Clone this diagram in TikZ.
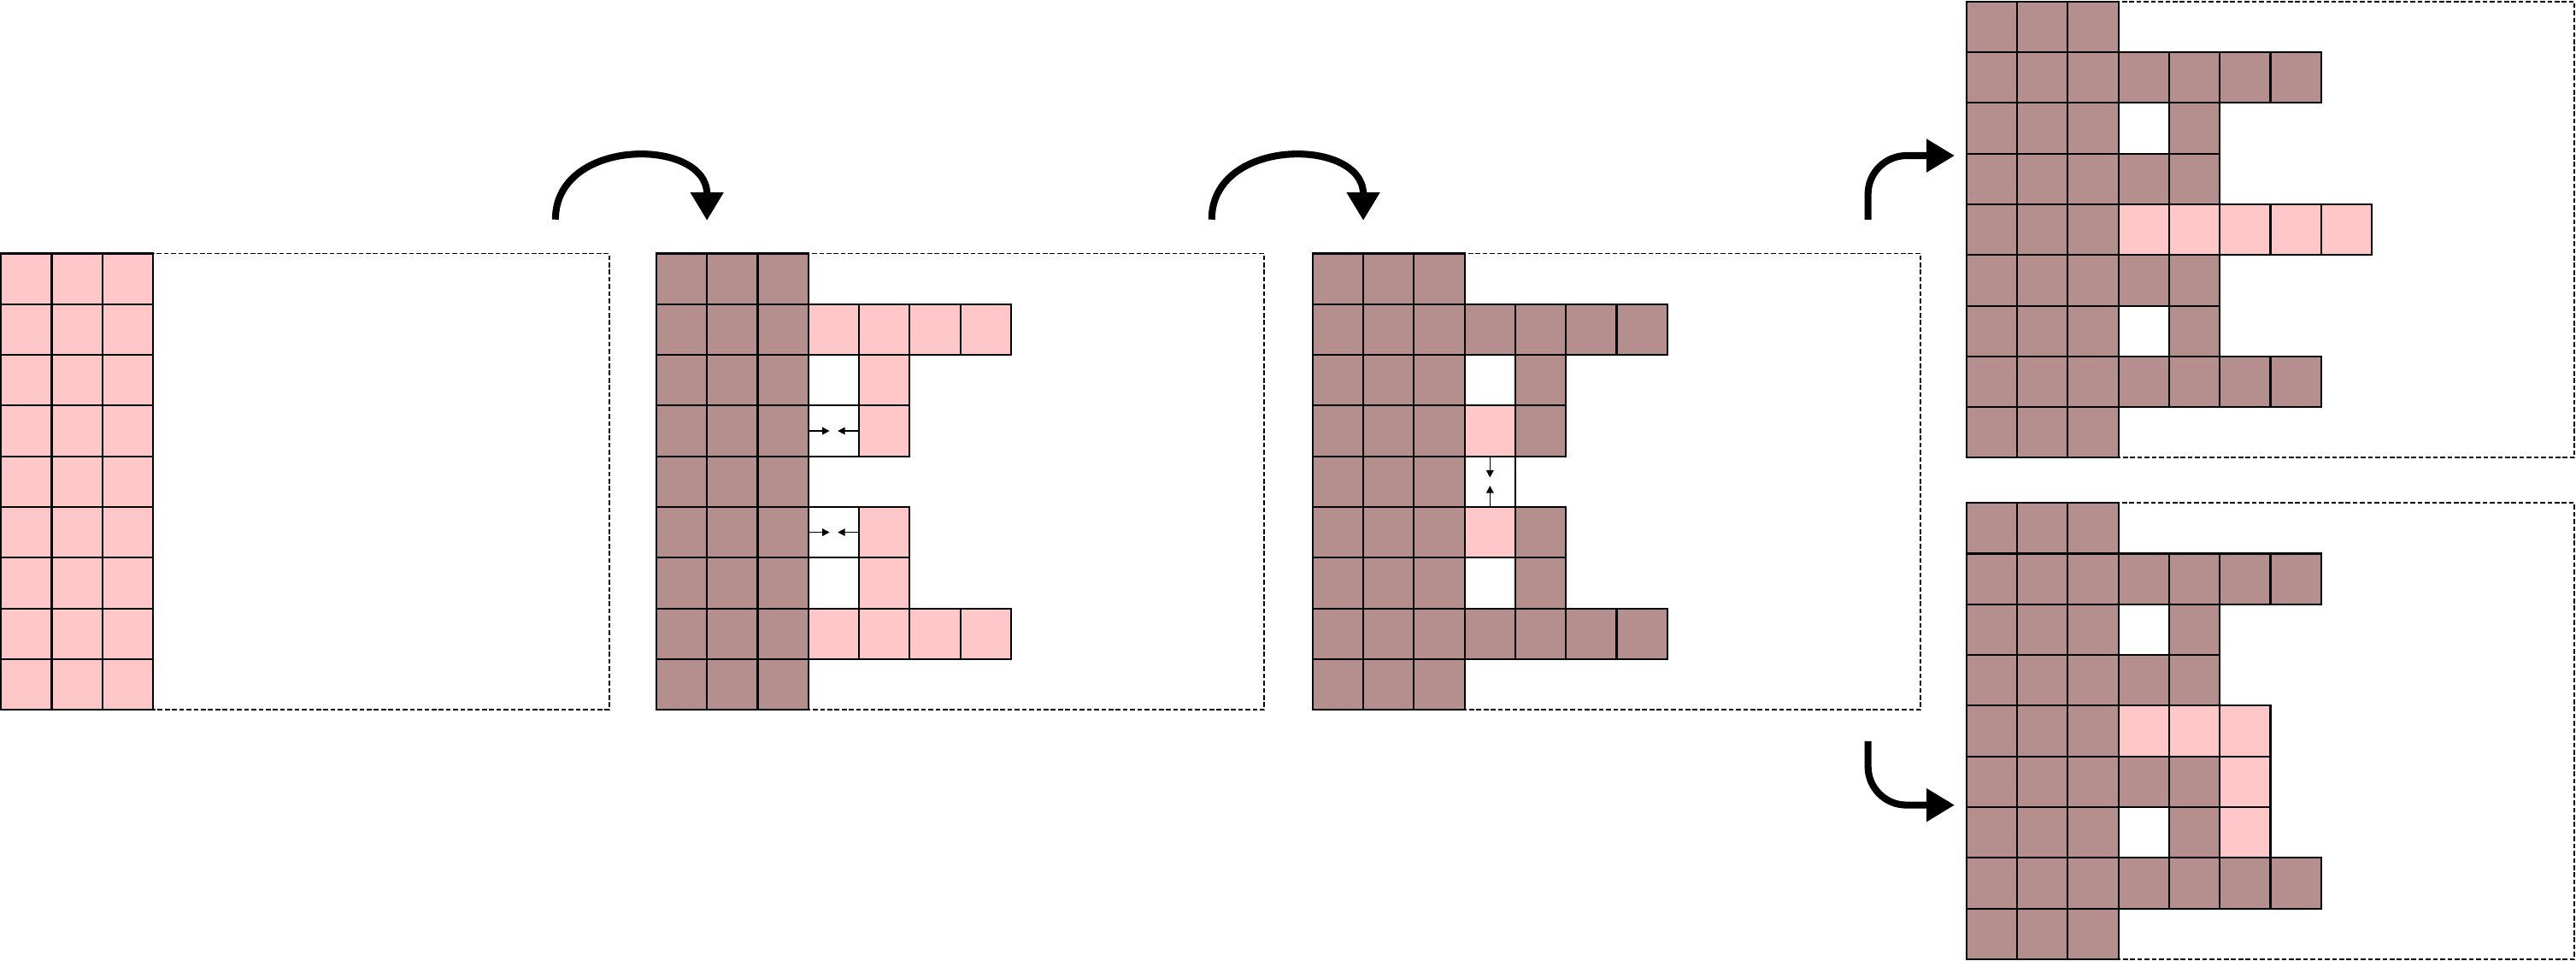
\documentclass[tikz,border=0pt]{standalone}
\usepackage{xcolor}
\usepackage{tikz}
\usetikzlibrary{arrows.meta}
\definecolor{cellpink}{RGB}{255,199,199}
\definecolor{cellbrown}{RGB}{180,143,141}

\begin{document}
\begin{tikzpicture}[x=0.593cm,y=0.593cm,
	pk/.style={draw=black,line width=0.6pt,fill=cellpink},
	br/.style={draw=black,line width=0.6pt,fill=cellbrown},
	wt/.style={draw=black,line width=0.6pt,fill=white},
	frame/.style={draw=black,line width=0.55pt,dash pattern=on 1.6pt off 0.8pt},
	big/.style={line width=2.3pt,-{Triangle[width=0.37cm,length=0.33cm]}},
	tiny/.style={line width=0.45pt,-{Triangle[width=0.085cm,length=0.085cm]}}]
				\useasboundingbox (0,0) rectangle (50.83,-18.95);
				\coordinate (s1) at (10.96,-4.33);
				\coordinate (e1) at (13.95,-4.35);
				\coordinate (s2) at (23.91,-4.33);
				\coordinate (e2) at (26.90,-4.35);
				\coordinate (s3) at (36.86,-4.33);
				\coordinate (e3) at (38.57,-3.07);
				\coordinate (s4) at (36.86,-14.62);
				\coordinate (e4) at (38.57,-15.88);
				\begin{scope}[shift={(0.02,-5)}]
					\draw[frame] (0,0) rectangle (12,-9);
					\foreach \c in {0,1,2} \foreach \r in {0,...,8} \draw[pk] (\c,-\r) rectangle ++(1,-1);
				\end{scope}
				\begin{scope}[shift={(12.95,-5)}]
					\draw[frame] (0,0) rectangle (12,-9);
					\foreach \c in {0,1,2} \foreach \r in {0,...,8} \draw[br] (\c,-\r) rectangle ++(1,-1);
					\foreach \c/\r in {3/1,4/1,5/1,6/1,4/2,4/3,4/5,4/6,3/7,4/7,5/7,6/7} \draw[pk] (\c,-\r) rectangle ++(1,-1);
					\foreach \c/\r in {3/2,3/3,3/5,3/6} \draw[wt] (\c,-\r) rectangle ++(1,-1);
					\foreach \r in {3,5} {
						\draw[tiny] (3,-\r-0.5) -- (3.42,-\r-0.5);
						\draw[tiny] (4,-\r-0.5) -- (3.58,-\r-0.5);
					}
				\end{scope}
				\begin{scope}[shift={(25.9,-5)}]
					\draw[frame] (0,0) rectangle (12,-9);
					\foreach \c in {0,1,2} \foreach \r in {0,...,8} \draw[br] (\c,-\r) rectangle ++(1,-1);
					\foreach \c/\r in {3/1,4/1,5/1,6/1,4/2,4/3,4/5,4/6,3/7,4/7,5/7,6/7} \draw[br] (\c,-\r) rectangle ++(1,-1);
					\foreach \c/\r in {3/3,3/5} \draw[pk] (\c,-\r) rectangle ++(1,-1);
					\foreach \c/\r in {3/2,3/4,3/6} \draw[wt] (\c,-\r) rectangle ++(1,-1);
					\draw[tiny] (3.5,-4) -- (3.5,-4.42);
					\draw[tiny] (3.5,-5) -- (3.5,-4.58);
				\end{scope}
				\begin{scope}[shift={(38.8,-0.03)}]
					\draw[frame] (0,0) rectangle (12,-9);
					\foreach \c in {0,1,2} \foreach \r in {0,...,8} \draw[br] (\c,-\r) rectangle ++(1,-1);
					\foreach \c/\r in {3/1,4/1,5/1,6/1,4/2,3/3,4/3,3/5,4/5,4/6,3/7,4/7,5/7,6/7} \draw[br] (\c,-\r) rectangle ++(1,-1);
					\foreach \c in {3,...,7} \draw[pk] (\c,-4) rectangle ++(1,-1);
					\foreach \c/\r in {3/2,3/6} \draw[wt] (\c,-\r) rectangle ++(1,-1);
				\end{scope}
				\begin{scope}[shift={(38.8,-9.92)}]
					\draw[frame] (0,0) rectangle (12,-9);
					\foreach \c in {0,1,2} \foreach \r in {0,...,8} \draw[br] (\c,-\r) rectangle ++(1,-1);
					\foreach \c/\r in {3/1,4/1,5/1,6/1,4/2,3/3,4/3,3/5,4/5,4/6,3/7,4/7,5/7,6/7} \draw[br] (\c,-\r) rectangle ++(1,-1);
					\foreach \c/\r in {3/4,4/4,5/4,5/5,5/6} \draw[pk] (\c,-\r) rectangle ++(1,-1);
					\foreach \c/\r in {3/2,3/6} \draw[wt] (\c,-\r) rectangle ++(1,-1);
				\end{scope}
				\draw[big] (s1) to[out=90,in=90,looseness=1.4] (e1);
				\draw[big] (s2) to[out=90,in=90,looseness=1.4] (e2);
				\draw[big,rounded corners=0.45cm] (s3) |- (e3);
				\draw[big,rounded corners=0.45cm] (s4) |- (e4);
			\end{tikzpicture}
\end{document}
